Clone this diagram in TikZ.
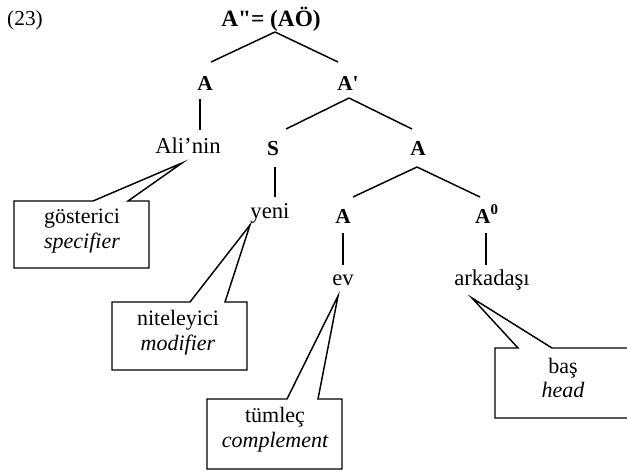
\documentclass[tikz,border=0pt]{standalone}
\usepackage{fontspec}
\setmainfont{Liberation Serif}
\usetikzlibrary{calc}
\begin{document}
\begin{tikzpicture}[x=0.75pt,y=-0.75pt,line width=1.1pt,
  lbl/.style={font=\bfseries\fontsize{16}{19}\selectfont,inner sep=0,anchor=base},
  toplbl/.style={font=\bfseries\fontsize{17.5}{20}\selectfont,inner sep=0,anchor=base},
  word/.style={font=\fontsize{17}{20}\selectfont,inner sep=0,anchor=base},
  note/.style={font=\fontsize{16.5}{19}\selectfont,inner sep=0,anchor=base},
  callout/.style={line width=1.1pt,line join=miter}]
\useasboundingbox (0,0) rectangle (627,472);

% example number
\node[word,font=\fontsize{16}{19}\selectfont] (num) at (25,25) {(23)};

% tree labels
\node[toplbl] (top) at (271,26) {A\textquotedbl= (AÖ)};
\node[lbl] (a1) at (205,90) {A};
\node[lbl] (a2) at (348,90) {A\textquotesingle};
\node[lbl] (s) at (273,155) {S};
\node[lbl] (a3) at (418,155) {A};
\node[lbl] (a4) at (343,223) {A};
\node[lbl] (a0) at (487,223) {A\textsuperscript{0}};

% words
\node[word] (ali) at (188,153) {Ali’nin};
\node[word] (yeni) at (270,218) {yeni};
\node[word] (ev) at (343,285) {ev};
\node[word] (ark) at (492,285) {arkadaşı};

% branches
\draw ($(top.base)+(4,6)$) -- ($(a1.base)+(6,-28)$);
\draw ($(top.base)+(4,6)$) -- ($(a2.base)+(-10,-28)$);
\draw ($(a1.base)+(-5,9)$) -- ($(ali.base)+(12,-23)$);
\draw ($(a2.base)+(1,8)$) -- ($(s.base)+(13,-26)$);
\draw ($(a2.base)+(1,8)$) -- ($(a3.base)+(-6,-26)$);
\draw ($(s.base)+(2,12)$) -- ($(yeni.base)+(5,-21)$);
\draw ($(a3.base)+(-1,12)$) -- ($(a4.base)+(10,-26)$);
\draw ($(a3.base)+(-1,12)$) -- ($(a0.base)+(-7,-26)$);
\draw ($(a4.base)+(0,10)$) -- ($(ev.base)+(0,-20)$);
\draw ($(a0.base)+(-1,10)$) -- ($(ark.base)+(-6,-20)$);

% callout tips
\coordinate (tip1) at ($(ali.base)+(-6,10)$);
\coordinate (tip2) at ($(yeni.base)+(-20,7)$);
\coordinate (tip3) at ($(ev.base)+(-5,11)$);
\coordinate (tip4) at ($(ark.base)+(-20,13)$);

% callouts
\draw[callout] (14,201) -- (93,201) -- (tip1) -- (128,201) -- (149,201) -- (149,268) -- (14,268) -- cycle;
\node[note] (n1a) at (82,223) {gösterici};
\node[note] (n1b) at (82,248) {\itshape specifier};

\draw[callout] (112,302) -- (190,302) -- (tip2) -- (225,302) -- (247,302) -- (247,370) -- (112,370) -- cycle;
\node[note] (n2a) at (178,325) {niteleyici};
\node[note] (n2b) at (178,350) {\itshape modifier};

\draw[callout] (207,399) -- (287,399) -- (tip3) -- (318,399) -- (342,399) -- (342,469) -- (207,469) -- cycle;
\node[note] (n3a) at (275,422) {tümleç};
\node[note] (n3b) at (275,447) {\itshape complement};

\draw[callout] (627,348) -- (552,348) -- (tip4) -- (518,348) -- (495,348) -- (495,418) -- (627,418);
\node[note] (n4a) at (563,373) {baş};
\node[note] (n4b) at (563,397) {\itshape head};
\end{tikzpicture}
\end{document}
